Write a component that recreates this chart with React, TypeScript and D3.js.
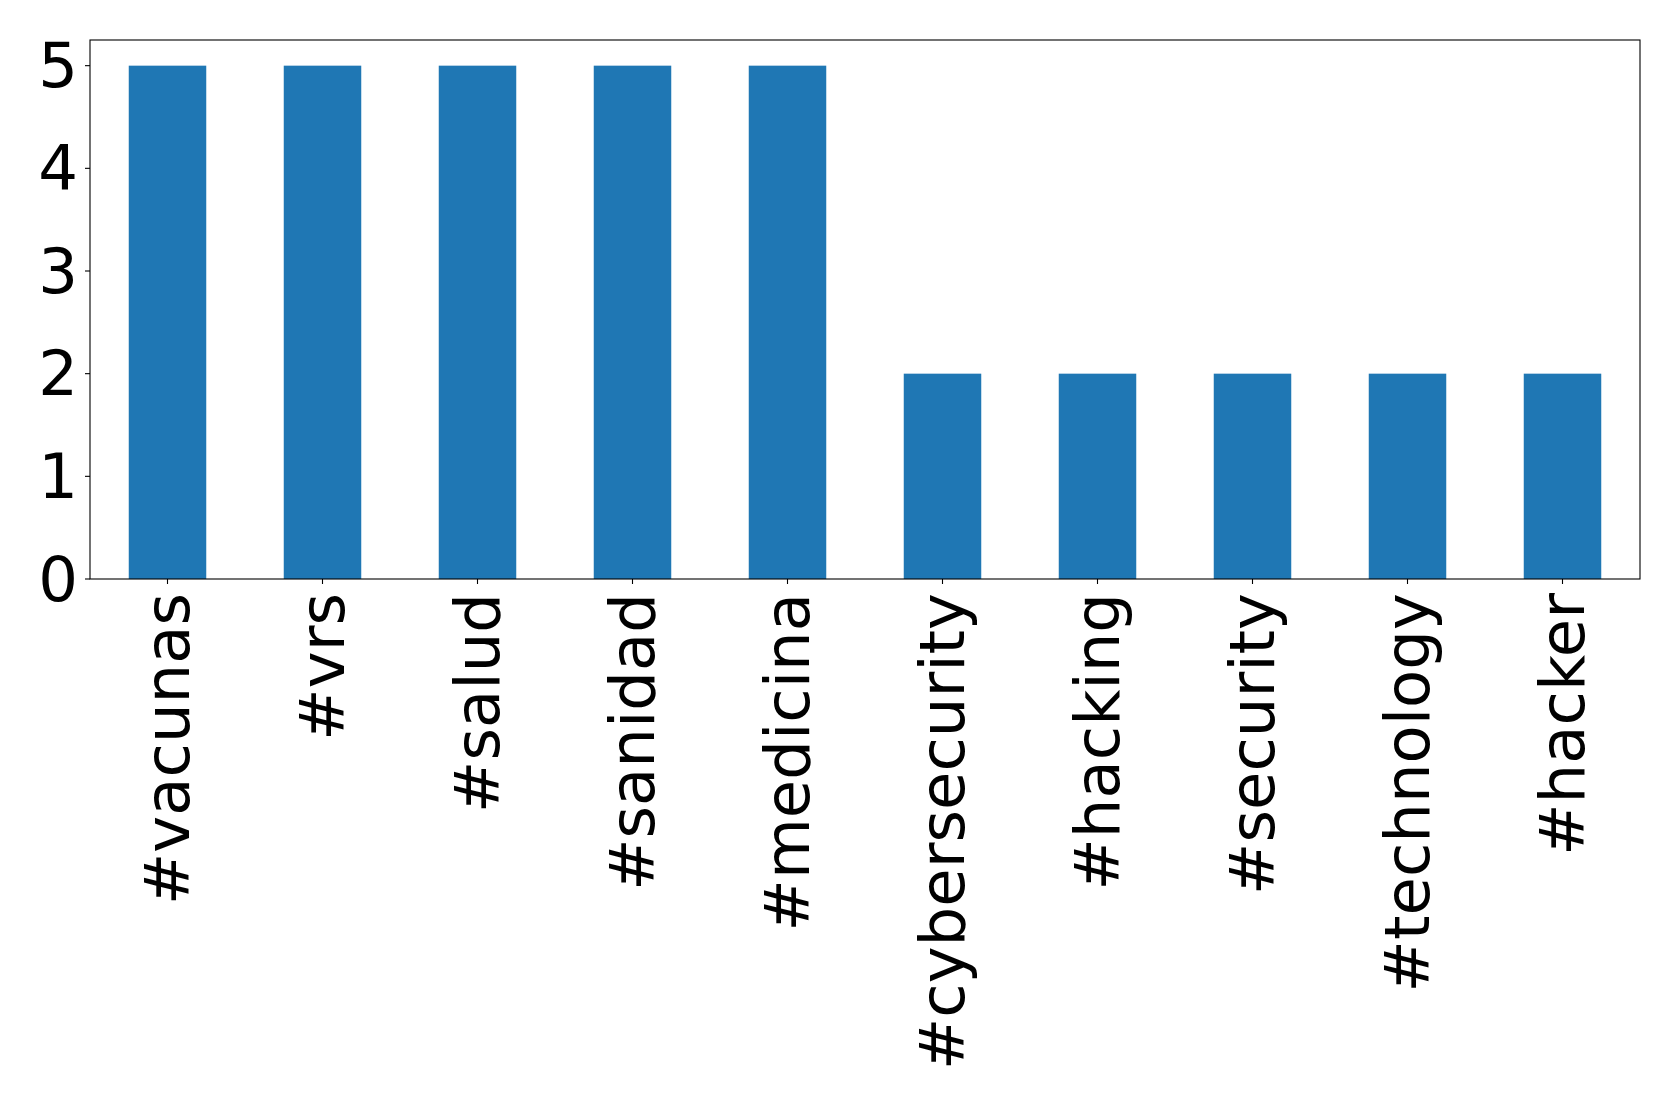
import React from "react";
import * as d3 from "d3";

const categories = ["#vacunas", "#vrs", "#salud", "#sanidad", "#medicina", "#cybersecurity", "#hacking", "#security", "#technology", "#hacker"];
const counts = [5, 5, 5, 5, 5, 2, 2, 2, 2, 2];
const yTicks = [0, 1, 2, 3, 4, 5];

const W = 1679;
const H = 1106;
const left = 90;
const right = 1640;
const top = 40;
const bottom = 579;
const FONT = "'DejaVu Sans', sans-serif";

export default function App() {
  const x = d3
    .scaleBand<string>()
    .domain(categories)
    .range([left, right])
    .paddingInner(0.5)
    .paddingOuter(0.25);
  const y = d3.scaleLinear().domain([0, 5.25]).range([bottom, top]);

  return (
    <svg
      width={W}
      height={H}
      style={{ position: "absolute", left: 0, top: 0, background: "#fff" }}
      fontFamily={FONT}
    >
      {categories.map((c, i) => (
        <rect
          key={c}
          x={x(c)!}
          y={y(counts[i])}
          width={x.bandwidth()}
          height={y(0) - y(counts[i])}
          fill="#1f77b4"
        />
      ))}
      <rect x={left} y={top} width={right - left} height={bottom - top} fill="none" stroke="#000" strokeWidth={1.1} />
      {yTicks.map((t) => (
        <g key={t}>
          <line x1={left - 5} x2={left} y1={y(t)} y2={y(t)} stroke="#000" strokeWidth={1.1} />
          <text x={left - 12} y={y(t)} textAnchor="end" dominantBaseline="central" fontSize={62.5} fill="#000">
            {t}
          </text>
        </g>
      ))}
      {categories.map((c) => {
        const cx = x(c)! + x.bandwidth() / 2;
        return (
          <g key={c}>
            <line x1={cx} x2={cx} y1={bottom} y2={bottom + 5} stroke="#000" strokeWidth={1.1} />
            <text
              transform={`translate(${cx},${bottom + 14}) rotate(-90)`}
              textAnchor="end"
              dominantBaseline="central"
              fontSize={62.5}
              fill="#000"
            >
              {c}
            </text>
          </g>
        );
      })}
    </svg>
  );
}
